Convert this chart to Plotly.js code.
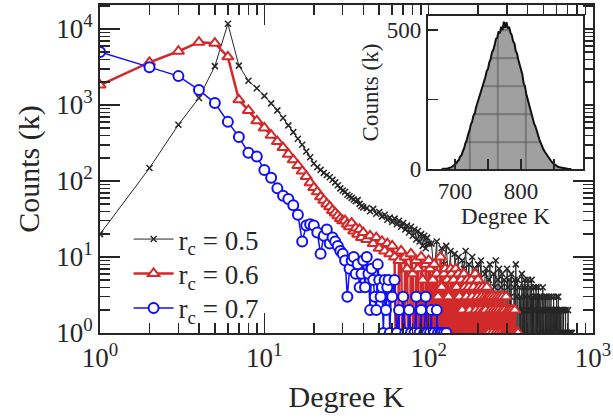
<!DOCTYPE html>
<html>
<head>
<meta charset="utf-8">
<script src="https://cdn.plot.ly/plotly-3.0.1.min.js"></script>
<style>
  html, body { margin: 0; padding: 0; background: white; }
  #graph { width: 613px; height: 419px; }
</style>
</head>
<body>
<div id="graph"></div>
<script>
/* ---------------- data ---------------- */

// r_c = 0.5 (black)
var degBlack = [1,2,3,4,5,6,7,8,9,10,11,12,13,14,15,16,17,18,19,20,
    21,22,23,24,25,26,27,28,29,30,31,32,33,34,35,36,37,38,39,40,
    42,44,46,48,50,52,54,56,58,60,62,64,66,68,70,72,74,76,78,80,
    82,84,86,88,90,92,94,96,98,100,
    104,108,112,116,120,124,128,132,136,140,144,148,152,156,160,164,168,172,176,180,
    184,188,192,196,200,204,208,212,216,220,224,228,232,236,240,244,248,252,256,260,
    264,268,272,276,280,284,288,292,296,300,
    303,306,309,312,315,318,321,324,327,330,
    333,336,339,342,345,348,351,354,357,360,
    363,366,369,372,375,378,381,384,387,390,
    393,396,399,402,405,408,411,414,417,420,
    423,426,429,432,435,438,441,444,447,450,
    453,456,459,462,465,468,471,474,477,480,
    483,486,489,492,495,498,501,504,507,510,
    513,516,519,522,525,528,531,534,537,540,
    543,546,549,552,555,558,561,564,567,570,
    573,576,579,582,585,588,591,594,597,600,
    603,606,609,612,615,618,621,624,627,630,
    633,636,639,642,645,648,651,654,657,660,
    663,666,669,672,675,678,681,684,687,690,
    693,696,699,702,705,708,711,714,717,720,
    723,726,729,732,735,738,741,744];
var countBlack = [20,148,550,1240,3250,11700,3300,2080,1660,1320,
    1050,850,675,540,440,360,300,245,205,170,
    152,140,128,120,112,104,96,88,80,75,
    72,66,63,60,57,54,56,50,47,45,
    44,40,43,37,39,34,36,31,33,29,32,27,30,25,28,23,26,21,25,19,
    23,17,22,16,20,14,19,13,18,15,
    15,6,16,0,13,8,14,5,12,0,11,6,10,0,9,7,12,4,8,0,
    10,5,7,0,8,4,9,3,0,6,7,0,5,8,3,0,6,4,9,0,
    5,7,0,4,6,0,5,3,0,7,
    4,0,5,0,3,6,0,2,0,4,5,0,8,0,3,5,0,2,4,0,
    3,0,6,2,0,4,0,5,3,0,4,0,2,5,0,3,0,4,2,0,
    5,0,3,0,4,2,0,3,0,4,
    2,0,3,0,4,1,0,3,0,2,3,0,2,0,4,0,2,3,0,1,
    3,0,2,0,3,1,0,2,0,3,1,0,2,0,3,0,2,1,0,2,
    0,3,1,0,2,0,1,2,0,3,
    0,2,0,1,3,0,1,0,2,0,1,2,0,1,0,2,0,1,0,1,
    2,0,1,0,1,0,2,0,1,0,1,0,1,0,2,0,1,0,1,0,
    1,0,1,0,1,0,1,1];

// r_c = 0.6 (red)
var degRed = [1,2,3,4,5,6,7,8,9,10,11,12,13,14,15,16,17,18,19,20,
    21,22,23,24,25,26,27,28,29,30,31,32,33,34,35,36,37,38,39,40,
    42,44,46,48,50,52,54,56,58,60,62,64,66,68,70,72,74,76,78,80,
    82,84,86,88,90,92,94,96,98,100,
    102,104,106,108,110,112,114,116,118,120,
    122,124,126,128,130,132,134,136,138,140,
    142,144,146,148,150,152,154,156,158,160,
    162,164,166,168,170,172,174,176,178,180,
    182,184,186,188,190,192,194,196,198,200,
    202,204,206,208,210,212,214,216,218,220,
    222,224,226,228,230,232,234,236,238,240,
    242,244,246,248,250,252,254,256,258,260,
    262,264,266,268,270,272,274,276,278,280,
    282,284,286,288,290,292,294,296,298,300,
    302,304,306,308,310,312,314,316,318,320,
    322,324,326,328,330,332,334,336,338,340,
    342,344,346,348,350];
var countRed = [1830,3650,5100,6700,6500,4300,1170,850,620,500,
    400,330,275,225,190,160,135,115,95,82,
    72,62,56,50,46,41,38,35,32,30,
    30,27,25,28,22,24,20,23,18,21,
    17,19,15,18,13,16,12,15,11,14,10,0,9,12,0,10,7,0,11,6,
    0,9,7,0,10,5,0,8,0,9,
    7,0,5,8,0,6,3,0,10,4,0,6,7,0,5,3,0,7,6,0,
    5,0,7,4,0,6,3,0,5,2,0,6,4,0,3,5,0,4,2,0,
    5,3,0,4,0,6,2,0,3,5,0,4,2,0,3,0,4,2,0,3,
    2,0,4,3,0,1,3,0,2,0,3,1,0,2,0,3,0,1,2,0,
    3,0,1,2,0,3,0,1,0,2,3,0,1,0,2,0,1,3,0,1,
    0,2,0,1,0,2,1,0,1,0,2,0,1,0,1,0,2,0,1,0,
    1,0,1,0,1];

// r_c = 0.7 (blue)
var degBlue = [1,2,3,4,5,6,7,8,9,10,11,12,13,14,15,16,17,18,19,20,
    21,22,23,24,25,26,27,28,29,30,31,32,33,34,35,36,37,38,39,40,
    41,42,43,44,45,46,47,48,49,50,51,52,53,54,55,56,57,58,59,60,
    62,64,66,68,70,72,74,76,78,80,82,84,86,88,90,92,94,96,98,100,
    102,104,106,108,110,112,114,116,118,120,122,124,126,128];
var countBlue = [5000,3150,2400,1580,1060,600,380,235,210,140,
    110,80,64,58,48,36,16,26,27,26,
    21,11,19,23,15,18,16,14,12,11,
    9,3,7,9,10,6,8,4,6,9,
    4,10,6,2,7,5,3,2,8,5,
    3,4,1,5,2,4,5,1,3,3,
    5,1,2,0,3,1,0,2,1,0,1,3,0,1,2,0,1,3,1,0,
    1,2,0,1,0,2,1,0,1,1,0,1,0,1];

var seriesNames = ['r<sub>c</sub> = 0.5', 'r<sub>c</sub> = 0.6', 'r<sub>c</sub> = 0.7'];

// inset histogram, degree 680..876 in steps of 2
var insetStart = 680;
var insetStep = 2;
var insetCounts = [0,0,1,1,2,3,4,6,9,12,
    18,20,28,33,45,50,64,75,94,105,
    125,138,160,170,192,200,222,238,250,270,
    278,296,318,330,352,360,384,395,420,428,
    445,468,472,495,488,512,500,530,508,528,
    505,512,490,482,460,452,425,415,392,372,
    352,340,308,298,270,252,238,210,202,178,
    162,152,132,120,105,92,84,70,62,55,
    44,40,32,27,22,18,13,10,8,6,
    5,3,3,2,1,1,0,0,0];

var mainXTicks = [1, 10, 100, 1000];
var mainXText = ['10<sup>0</sup>', '10<sup>1</sup>', '10<sup>2</sup>', '10<sup>3</sup>'];
var mainYTicks = [1, 10, 100, 1000, 10000];
var mainYText = ['10<sup>0</sup>', '10<sup>1</sup>', '10<sup>2</sup>', '10<sup>3</sup>', '10<sup>4</sup>'];
var insetXTicks = [700, 800];
var insetXMinor = [750, 850];
var insetYTicks = [0, 500];
var insetYMinor = [250];

/* ---------------- build traces ---------------- */

// empty bins (count 0) fall off the bottom of a log axis
function logSafe(arr) {
    return arr.map(function(v) { return v > 0 ? v : 0.05; });
}

var ink = '#262626';
var red = '#d22a2a';
var blue = '#1010f5';

var trace0 = {
    x: degBlack, y: logSafe(countBlack),
    name: seriesNames[0],
    legend: 'legend',
    mode: 'lines+markers',
    line: {color: ink, width: 1, simplify: false},
    marker: {symbol: 'x-thin', size: 6, line: {color: ink, width: 1.5}, color: ink}
};

var trace1 = {
    x: degRed, y: logSafe(countRed),
    name: seriesNames[1],
    legend: 'legend2',
    mode: 'lines+markers',
    line: {color: red, width: 2.5, simplify: false},
    marker: {symbol: 'triangle-up', size: 10, line: {color: red, width: 2}, color: 'white'}
};

var trace2 = {
    x: degBlue, y: logSafe(countBlue),
    name: seriesNames[2],
    legend: 'legend3',
    mode: 'lines+markers',
    line: {color: blue, width: 1.5, simplify: false},
    marker: {symbol: 'circle', size: 10, line: {color: blue, width: 2}, color: 'white'}
};

var trace3 = {
    x0: insetStart, dx: insetStep, y: insetCounts,
    xaxis: 'x2', yaxis: 'y2',
    mode: 'lines',
    showlegend: false,
    line: {color: '#111', width: 2},
    fill: 'tozeroy',
    fillcolor: '#a0a0a0',
    fillpattern: {shape: '+', size: 28, solidity: 0.06, fgcolor: '#444', bgcolor: '#a0a0a0'}
};

var data = [trace0, trace1, trace2, trace3];

var serif = 'Liberation Serif';

function insetAxis(extra) {
    var ax = {
        ticks: 'inside', ticklen: 10, tickwidth: 1.5, tickcolor: ink,
        tickfont: {size: 23},
        showline: true, linewidth: 2, linecolor: ink, mirror: true,
        showgrid: false, zeroline: false
    };
    for (var k in extra) ax[k] = extra[k];
    return ax;
}

// one legend box per row so the rows sit where the reference puts them
function legendRow(y) {
    return {
        x: 0.058, y: y, xanchor: 'left', yanchor: 'middle',
        bgcolor: 'rgba(0,0,0,0)',
        font: {family: serif, size: 27},
        itemwidth: 40
    };
}

var layout = {
    width: 613,
    height: 419,
    margin: {l: 100, r: 20, t: 5, b: 86},
    paper_bgcolor: 'white',
    plot_bgcolor: 'white',
    font: {family: serif, size: 27, color: ink},
    showlegend: true,
    legend: legendRow(0.285),
    legend2: legendRow(0.18),
    legend3: legendRow(0.075),
    xaxis: {
        type: 'log',
        range: [0, 3],
        tickvals: mainXTicks,
        ticktext: mainXText,
        ticks: 'inside', ticklen: 20, tickwidth: 1.5, tickcolor: ink,
        minor: {ticks: 'inside', ticklen: 10, tickwidth: 1.5, dtick: 'D1', tickcolor: ink},
        showline: true, linewidth: 2, linecolor: ink,
        mirror: 'ticks',
        showgrid: false, zeroline: false,
        title: {text: 'Degree K', font: {size: 30}, standoff: 14}
    },
    yaxis: {
        type: 'log',
        range: [0, 4.316],
        tickvals: mainYTicks,
        ticktext: mainYText,
        ticks: 'inside', ticklen: 20, tickwidth: 1.5, tickcolor: ink,
        minor: {ticks: 'inside', ticklen: 10, tickwidth: 1.5, dtick: 'D1', tickcolor: ink},
        showline: true, linewidth: 2, linecolor: ink,
        mirror: 'ticks',
        showgrid: false, zeroline: false,
        title: {text: 'Counts (k)', font: {size: 30}, standoff: 8}
    },
    xaxis2: insetAxis({
        domain: [0.665, 0.98],
        anchor: 'y2',
        range: [659, 894],
        tickvals: insetXTicks,
        minor: {tickmode: 'array', tickvals: insetXMinor, ticks: 'inside', ticklen: 10, tickwidth: 1.5, tickcolor: ink},
        title: {text: 'Degree K', font: {size: 23}, standoff: 2}
    }),
    yaxis2: insetAxis({
        domain: [0.5, 0.966],
        anchor: 'x2',
        range: [0, 550],
        tickvals: insetYTicks,
        minor: {tickmode: 'array', tickvals: insetYMinor, ticks: 'inside', ticklen: 10, tickwidth: 1.5, tickcolor: ink},
        title: {text: 'Counts (k)', font: {size: 23}, standoff: 2}
    })
};

var graph = document.getElementById('graph');
Plotly.newPlot(graph, data, layout, {staticPlot: true});
</script>
</body>
</html>
